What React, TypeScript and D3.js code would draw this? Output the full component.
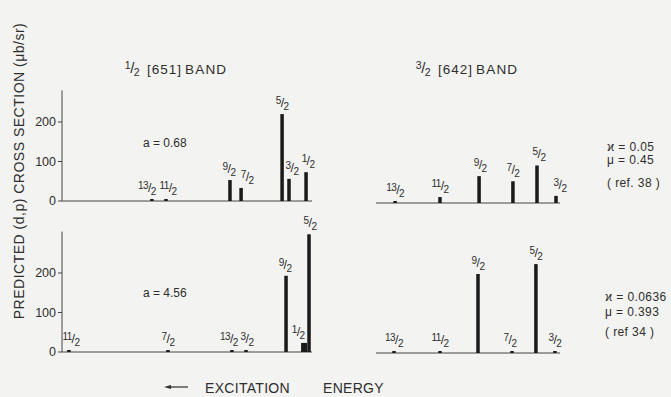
import React from "react";
import * as d3 from "d3";

// ---- data ----
const tlLabels = ["13/2", "11/2", "9/2", "7/2", "5/2", "3/2", "1/2"];
const tlPos = [36, 41.7, 67.6, 72.1, 88.7, 91.5, 98.4];
const tlValues = [2, 3, 53, 33, 220, 56, 73];

const trLabels = ["13/2", "11/2", "9/2", "7/2", "5/2", "3/2"];
const trPos = [10, 34.8, 56.4, 75.1, 88.4, 98.9];
const trValues = [2, 15, 68, 55, 95, 18];

const blLabels = ["11/2", "7/2", "13/2", "3/2", "9/2", "1/2", "5/2"];
const blPos = [2.4, 42.5, 68.4, 74.1, 90.3, 97.6, 99.6];
const blValues = [2, 2, 2, 2, 193, 23, 298];

const brLabels = ["13/2", "11/2", "9/2", "7/2", "5/2", "3/2"];
const brPos = [9.4, 34.8, 55.8, 74.6, 87.8, 98.3];
const brValues = [2, 1, 200, 2, 225, 4];

const yTicks = [0, 100, 200];
const bandTitles = [["1", "2", "[651]", "BAND"], ["3", "2", "[642]", "BAND"]];
const topParams = ["ϰ = 0.05", "μ = 0.45", "( ref. 38 )"];
const bottomParams = ["ϰ = 0.0636", "μ = 0.393", "( ref 34 )"];
const decoupling = ["a = 0.68", "a = 4.56"];
const yTitle = "PREDICTED (d,p) CROSS SECTION (μb/sr)";

// ---- layout (not data) ----
const FONT = "'Liberation Sans', Arial, sans-serif";
const INK = "#1a1a1a";
const TXT = "#2e2e2e";
const labelDx: Record<string, Record<string, number>> = {
  tl: { "13/2": -5, "11/2": 2, "7/2": 6, "3/2": 3, "1/2": 2, "9/2": -1 },
  tr: { "3/2": 4, "9/2": 1, "5/2": 2 },
  bl: { "1/2": -6, "9/2": -1, "5/2": 1, "11/2": 2, "13/2": -3, "3/2": 1 },
  br: { "7/2": -2 },
};
const wideBars: Record<string, Record<string, number>> = { bl: { "1/2": 6 } };

function Frac({ x, y, s, size = 10, slash = 12.5, ls = -0.6 }: { x: number; y: number; s: string; size?: number; slash?: number; ls?: number }) {
  const [n, d] = s.split("/");
  return (
    <text x={x} y={y - size * 0.62} textAnchor="middle" fontFamily={FONT} fill={TXT} letterSpacing={ls}>
      <tspan fontSize={size}>{n}</tspan>
      <tspan fontSize={slash} dy={size * 0.31}>/</tspan>
      <tspan fontSize={size} dy={size * 0.31}>{d}</tspan>
    </text>
  );
}

type PanelProps = {
  id: string;
  labels: string[];
  pos: number[];
  values: number[];
  x0: number;
  x1: number;
  base: number;
  axis: boolean;
  yMax: number;
};

function Panel({ id, labels, pos, values, x0, x1, base, axis, yMax }: PanelProps) {
  const x = d3.scaleLinear().domain([0, 100]).range([x0, x1]);
  const y = d3.scaleLinear().domain([0, 200]).range([base, base - 79]);
  const bw = 3.5;
  return (
    <g>
      <line x1={x0 - 1} x2={x1 + 2} y1={base} y2={base} stroke="#444" strokeWidth={1} />
      {axis && (
        <g>
          <line x1={x0 - 1} x2={x0 - 1} y1={base} y2={y(yMax)} stroke="#444" strokeWidth={1} />
          {yTicks.map((t) => (
            <g key={t}>
              <line x1={x0 - 5} x2={x0 - 1} y1={y(t)} y2={y(t)} stroke="#444" />
              <text x={x0 - 7} y={y(t) + 4} textAnchor="end" fontSize={12.5} fontFamily={FONT} fill={TXT}>
                {t}
              </text>
            </g>
          ))}
        </g>
      )}
      {labels.map((lab, i) => {
        const cx = x(pos[i]);
        const w = (wideBars[id] && wideBars[id][lab]) || bw;
        const top = Math.min(y(values[i]), base - 2);
        const lb = Math.min(top, base - 2) - 4;
        const dx = (labelDx[id] && labelDx[id][lab]) || 0;
        return (
          <g key={lab}>
            <rect x={cx - w / 2} y={top} width={w} height={base - top} fill={INK} />
            <Frac x={cx + dx} y={lb} s={lab} />
          </g>
        );
      })}
    </g>
  );
}

export default function App() {
  return (
    <svg width={671} height={397} style={{ position: "absolute", left: 0, top: 0 }}>
      <rect width={671} height={397} fill="#f3f3f1" />
      <text
        transform="translate(24,171) rotate(-90)"
        textAnchor="middle"
        fontSize={14}
        fontFamily={FONT}
        fill={TXT}
        letterSpacing={0.5}
      >
        {yTitle}
      </text>

      {bandTitles.map((t, i) => {
        const xs = [126, 417][i];
        return (
          <g key={i}>
            <Frac x={xs + 6} y={76} s={`${t[0]}/${t[1]}`} size={10.5} slash={15} ls={-0.5} />
            <text x={xs + 21} y={74} fontSize={13.5} fontFamily={FONT} fill={TXT} letterSpacing={1}>
              {t[2]}
            </text>
            <text x={xs + 59} y={74} fontSize={13.5} fontFamily={FONT} fill={TXT} letterSpacing={1.2}>
              {t[3]}
            </text>
          </g>
        );
      })}

      <Panel id="tl" labels={tlLabels} pos={tlPos} values={tlValues} x0={63} x1={310} base={201} axis yMax={280} />
      <Panel id="tr" labels={trLabels} pos={trPos} values={trValues} x0={377} x1={558} base={203} axis={false} yMax={0} />
      <Panel id="bl" labels={blLabels} pos={blPos} values={blValues} x0={63} x1={310} base={352} axis yMax={305} />
      <Panel id="br" labels={brLabels} pos={brPos} values={brValues} x0={377} x1={558} base={353} axis={false} yMax={0} />

      <text x={143} y={147} fontSize={12} fontFamily={FONT} fill={TXT}>{decoupling[0]}</text>
      <text x={143} y={297} fontSize={12} fontFamily={FONT} fill={TXT}>{decoupling[1]}</text>

      {topParams.map((s, i) => (
        <text key={s} x={607} y={[151, 164, 187][i]} fontSize={12} fontFamily={FONT} fill={TXT} letterSpacing={0.4}>{s}</text>
      ))}
      {bottomParams.map((s, i) => (
        <text key={s} x={605} y={[301, 316, 336][i]} fontSize={12} fontFamily={FONT} fill={TXT} letterSpacing={0.4}>{s}</text>
      ))}

      <line x1={170} x2={188} y1={387} y2={387} stroke={TXT} strokeWidth={1.2} />
      <path d="M164,387 L171,385 L171,389 Z" fill={TXT} />
      <text x={205} y={393} fontSize={14} fontFamily={FONT} fill={TXT} letterSpacing={0.3}>EXCITATION</text>
      <text x={323} y={393} fontSize={14} fontFamily={FONT} fill={TXT} letterSpacing={0.3}>ENERGY</text>
    </svg>
  );
}
